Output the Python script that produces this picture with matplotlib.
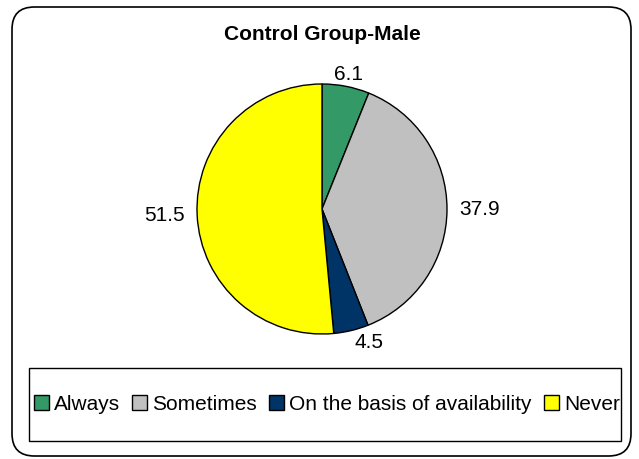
import matplotlib
matplotlib.use("Agg")
import matplotlib.pyplot as plt
from matplotlib.patches import FancyBboxPatch, Rectangle, Patch

plt.rcParams['font.family'] = ['Liberation Sans', 'DejaVu Sans']

title = "Control Group-Male"
categories = ["Always", "Sometimes", "On the basis of availability", "Never"]
values = [6.1, 37.9, 4.5, 51.5]
colors = ["#339966", "#C0C0C0", "#003366", "#FFFF00"]

W, H = 639, 459
fig = plt.figure(figsize=(W / 100, H / 100), dpi=100)

# outer rounded border
border = FancyBboxPatch((12 / W, 3 / H), (631 - 12) / W, (454 - 5) / H,
                        boxstyle="round,pad=0,rounding_size=0.035",
                        transform=fig.transFigure, facecolor="none",
                        edgecolor="black", linewidth=1.2, mutation_aspect=W / H,
                        zorder=-1)
fig.patches.append(border)

cx, cy, r = 322, H - 209, 125
ax = fig.add_axes([(cx - r) / W, (cy - r) / H, 2 * r / W, 2 * r / H])
wedges, texts = ax.pie(values, colors=colors, startangle=90, counterclock=False,
                       labels=[f"{v:.1f}" for v in values], labeldistance=1.1,
                       wedgeprops=dict(edgecolor="black", linewidth=1.0),
                       textprops=dict(fontsize=15))
# Excel-like label anchoring: small top slice label centred above it
texts[0].set_ha("center")
ax.set_aspect("equal")
ax.set_xlim(-1, 1)
ax.set_ylim(-1, 1)

fig.text(cx / W, 1 - 34 / H, title, ha="center", va="center",
         fontsize=15, fontweight="bold")

# legend box
lx0, lx1, ly0, ly1 = 29, 621, 368, 441
fig.patches.append(Rectangle((lx0 / W, 1 - ly1 / H), (lx1 - lx0) / W, (ly1 - ly0) / H,
                             transform=fig.transFigure, facecolor="none",
                             edgecolor="black", linewidth=1.0, zorder=-1))
handles = [Patch(facecolor=c, edgecolor="black", linewidth=1.0) for c in colors]
fig.legend(handles, categories, loc="center", bbox_to_anchor=(327 / W, 1 - 404 / H),
           ncol=4, frameon=False, fontsize=15, handlelength=0.7, handleheight=0.7,
           handletextpad=0.25, columnspacing=0.6, borderpad=0, borderaxespad=0)

fig.savefig("out.png", dpi=100)
